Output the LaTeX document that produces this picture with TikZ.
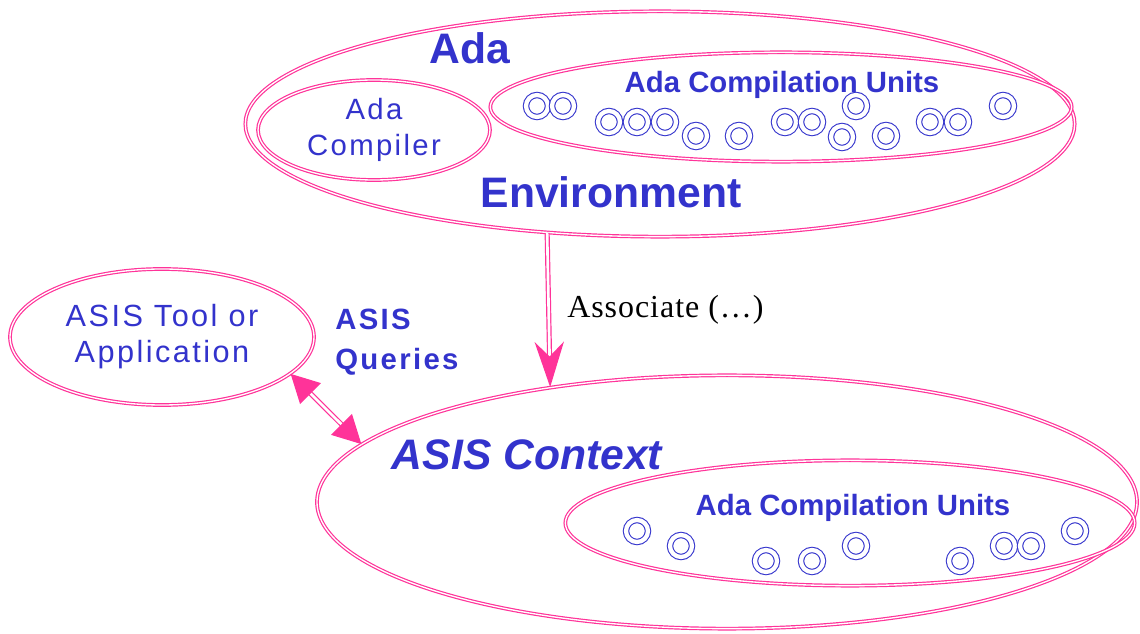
\documentclass[tikz,border=0pt]{standalone}
\usepackage{fontspec}
\setmainfont{Liberation Sans}
\newfontfamily\spacedfont[LetterSpace=8]{Liberation Sans}
\newfontfamily\serifassoc[LetterSpace=3]{Liberation Serif}
\usetikzlibrary{arrows.meta,shapes.geometric}

\definecolor{rose}{RGB}{255,51,153}
\definecolor{bleu}{RGB}{51,51,204}

\tikzset{
  bord/.style={draw=rose, double=white, line width=0.9pt, double distance=1pt},
  bulle/.style={bord, ellipse, inner sep=0pt},
  unite/.style={circle, draw=bleu, double=white, line width=0.8pt,
    double distance=3.2pt, minimum size=16.5pt, inner sep=0pt},
  etiq/.style={text=bleu, inner sep=0pt},
  fleche/.style={draw=rose, double=white, line width=0.9pt, double distance=2pt},
}

\begin{document}
\begin{tikzpicture}[x=0.75pt,y=-0.75pt]
\useasboundingbox (0,0) rectangle (1140,634);

% Ellipse de l'environnement Ada
\node[bulle, minimum width=622pt, minimum height=169pt] (env) at (660,124) {};

% Ellipse du compilateur
\node[bulle, minimum width=174pt, minimum height=75pt, align=center,
  text=bleu, font=\spacedfont\fontsize{22}{27}\selectfont]
(compiler) at (374,130) {Ada\\Compiler};

% Ellipse des unites de compilation (haut)
\node[bulle, minimum width=436pt, minimum height=82pt] (unitsA) at (781,107) {};

% Ellipse du contexte ASIS
\node[bulle, minimum width=615pt, minimum height=190pt] (ctx) at (727,502) {};

% Ellipse des unites de compilation (bas)
\node[bulle, minimum width=427pt, minimum height=94pt] (unitsB) at (850,523) {};

% Ellipse de l'outil ASIS
\node[bulle, minimum width=228pt, minimum height=102pt, align=center,
  text=bleu, font=\spacedfont\fontsize{23}{27}\selectfont]
(tool) at (162,337) {ASIS Tool or\\Application};

% Textes
\node[etiq, font=\fontsize{32}{36}\selectfont\bfseries] (ada) at (470,48) {Ada};
\node[etiq, font=\fontsize{32}{36}\selectfont\bfseries] (envtxt) at (611,192) {Environment};
\node[etiq, font=\fontsize{22}{26}\selectfont\bfseries] (unitsAtxt) at (782,85) {Ada Compilation Units};
\node[etiq, font=\fontsize{22}{26}\selectfont\bfseries] (unitsBtxt) at (853,508) {Ada Compilation Units};
\node[etiq, font=\fontsize{32}{36}\selectfont\bfseries\itshape] (ctxtxt) at (527,455) {ASIS Context};
\node[etiq, anchor=west, align=left, font=\spacedfont\fontsize{22}{30}\selectfont\bfseries]
(queries) at (335,342) {ASIS\\Queries};
\node[anchor=west, inner sep=0pt, font=\serifassoc\fontsize{24}{28}\selectfont]
(assoc) at (567,310) {Associate (\ldots)};

% Unites (haut)
\foreach \cx/\cy [count=\i] in {537/106,563/106,609/122,637/122,665/122,696/136,
  739/136,785/122,812/122,856/106,842/137,886/136,930/122,958/122,1003/106}
  \node[unite] (uA-\i) at (\cx,\cy) {};

% Unites (bas)
\foreach \cx/\cy [count=\i] in {637/531,681/546,766/561,812/561,856/546,
  960/561,1004/546,1031/546,1075/531}
  \node[unite] (uB-\i) at (\cx,\cy) {};

% Fleches
\draw[fleche, -{Stealth[length=34pt,width=22pt,inset=11pt,fill=rose]}]
  (env.224.7) -- (ctx.147);
\draw[fleche, {Triangle[length=21pt,width=22pt,fill=rose]}-{Triangle[length=21pt,width=22pt,fill=rose]}]
  (tool.-16) -- (ctx.171);

\end{tikzpicture}
\end{document}
